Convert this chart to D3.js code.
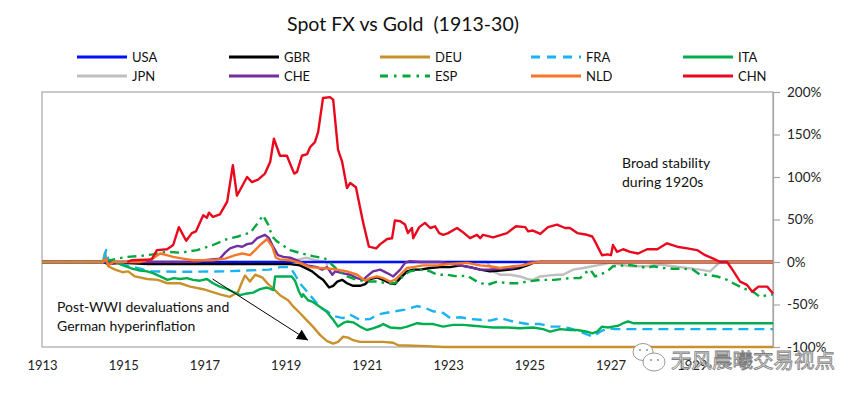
<!DOCTYPE html>
<html><head><meta charset="utf-8">
<script src="https://cdn.jsdelivr.net/npm/d3@7"></script>
<style>
html,body{margin:0;padding:0;background:#fff;}
svg{display:block;font-family:Lato,"Open Sans",sans-serif;}
</style></head>
<body><svg id="c" width="865" height="397"></svg>
<script>
// ---- data: [year, % change vs gold] ----
const seriesNames = ["USA","GBR","DEU","FRA","ITA","JPN","CHE","ESP","NLD","CHN"];
const drawOrder = ["JPN","USA","GBR","DEU","FRA","ITA","CHE","ESP","NLD","CHN"];
const xTickYears = [1913,1915,1917,1919,1921,1923,1925,1927,1929];
const yTickValues = [-100,-50,0,50,100,150,200];

const USA = [[1913,0],[1931,0]];
const GBR = [[1913,0],[1914.5,0],[1914.6,-2],[1915.0,-1],[1915.6,-2.5],[1919.11,-2.5],[1919.35,-4],[1919.48,-7],[1919.65,-11],[1919.80,-17],[1919.92,-21],[1920.07,-30],[1920.17,-28],[1920.27,-23],[1920.39,-21],[1920.51,-25],[1920.66,-28],[1920.83,-28],[1920.96,-26],[1921.08,-20],[1921.25,-18],[1921.40,-21],[1921.57,-25],[1921.69,-26],[1921.82,-19],[1921.99,-11],[1922.14,-9],[1922.31,-9],[1922.56,-7],[1922.80,-6],[1923.05,-6],[1923.30,-4],[1923.54,-6],[1923.79,-9],[1924.03,-11],[1924.28,-10],[1924.53,-9],[1924.77,-7],[1924.95,-4],[1925.09,-1],[1925.27,0],[1931,0]];
const DEU = [[1913,0],[1914.50,0],[1914.55,11],[1914.63,-5],[1914.80,-9],[1914.98,-12],[1915.12,-11],[1915.29,-17],[1915.59,-20],[1915.85,-21],[1916.09,-25],[1916.40,-25],[1916.65,-29],[1916.97,-32],[1917.38,-38],[1917.63,-41],[1917.83,-35],[1917.93,-23],[1918.00,-16],[1918.12,-23],[1918.25,-15],[1918.42,-18],[1918.57,-26],[1918.69,-31],[1918.86,-39],[1919.06,-45],[1919.18,-52],[1919.35,-60],[1919.51,-68],[1919.67,-76],[1919.85,-86],[1920.02,-93],[1920.17,-96],[1920.29,-94],[1920.41,-88],[1920.54,-89],[1920.66,-92],[1920.83,-94],[1921.08,-94],[1921.40,-94],[1921.65,-95],[1921.77,-98],[1922.48,-99],[1922.9,-100],[1931,-100]];
const FRA = [[1913,0],[1914.50,0],[1914.58,14],[1914.65,0],[1914.9,-2],[1915.17,-5],[1915.45,-8],[1915.59,-11],[1916.5,-11.5],[1917.5,-11],[1918.0,-10],[1918.6,-9],[1918.86,-6],[1919.11,-6],[1919.23,-15],[1919.35,-25],[1919.53,-35],[1919.67,-43],[1919.85,-53],[1920.02,-58],[1920.22,-64],[1920.41,-66],[1920.59,-62],[1920.83,-68],[1921.08,-67],[1921.25,-62],[1921.45,-60],[1921.69,-58],[1921.94,-56],[1922.24,-52],[1922.38,-53],[1922.63,-58],[1922.88,-60],[1923.05,-66],[1923.30,-65],[1923.54,-67],[1923.79,-68],[1924.03,-69],[1924.28,-66],[1924.60,-70],[1924.95,-73],[1925.27,-73],[1925.51,-76],[1925.76,-76],[1926.00,-78],[1926.25,-82],[1926.57,-88],[1926.74,-82],[1926.94,-78],[1927.11,-79],[1931,-79]];
const ITA = [[1913,0],[1914.8,0],[1915.0,-4],[1915.24,-8],[1915.41,-10],[1915.59,-11],[1915.73,-13],[1915.91,-17],[1916.09,-21],[1916.24,-19],[1916.40,-20],[1916.57,-19],[1916.72,-21],[1916.89,-22],[1917.06,-20],[1917.21,-25],[1917.38,-29],[1917.56,-32],[1917.70,-35],[1917.88,-39],[1918.05,-37],[1918.20,-36],[1918.37,-32],[1918.54,-30],[1918.70,-33],[1918.74,-17],[1919.15,-17],[1919.23,-22],[1919.33,-35],[1919.40,-41],[1919.43,-38],[1919.55,-45],[1919.67,-47],[1919.85,-53],[1920.02,-59],[1920.17,-68],[1920.29,-76],[1920.41,-72],[1920.51,-70],[1920.66,-71],[1920.83,-76],[1921.00,-80],[1921.15,-78],[1921.33,-75],[1921.40,-73],[1921.57,-77],[1921.82,-78],[1921.99,-76],[1922.24,-72],[1922.38,-73],[1922.63,-73],[1922.88,-76],[1923.12,-74],[1923.37,-74],[1923.62,-75],[1923.86,-76],[1924.11,-77],[1924.45,-77],[1924.77,-78],[1925.09,-77],[1925.34,-79],[1925.51,-82],[1925.76,-79],[1926.00,-80],[1926.18,-80],[1926.42,-82],[1926.55,-84],[1926.67,-82],[1926.79,-76],[1926.94,-77],[1927.06,-76],[1927.19,-75],[1927.31,-72],[1927.43,-70],[1927.56,-72],[1931,-72]];
const JPN = [[1913,0],[1919.0,0],[1919.2,2],[1919.34,3],[1919.51,5],[1919.76,2],[1920.0,0],[1920.02,-3],[1920.04,0],[1923.96,0],[1924.11,-11],[1924.28,-15],[1924.53,-15],[1924.77,-17],[1924.95,-20],[1925.09,-21],[1925.27,-17],[1925.44,-16],[1925.68,-15],[1925.83,-15],[1926.08,-9],[1926.33,-7],[1926.67,-4],[1926.99,-1],[1927.24,-3],[1927.48,-5],[1927.90,-5],[1928.22,-3],[1928.54,-5],[1928.89,-7],[1929.21,-9],[1929.45,-11],[1929.58,-5],[1929.70,0],[1931,0]];
const CHE = [[1913,0],[1916.8,0],[1917.0,2],[1917.38,4],[1917.51,11],[1917.63,16],[1917.81,19],[1917.93,18],[1918.05,21],[1918.17,22],[1918.30,28],[1918.49,32],[1918.59,28],[1918.69,18],[1918.81,8],[1918.94,6],[1919.11,5],[1919.28,2],[1919.53,-4],[1919.77,-6],[1919.90,-9],[1920.02,-6],[1920.15,-15],[1920.22,-11],[1920.39,-13],[1920.59,-15],[1920.76,-19],[1920.91,-21],[1921.00,-17],[1921.15,-11],[1921.33,-9],[1921.50,-13],[1921.65,-17],[1921.82,-9],[1921.94,-1],[1922.06,1],[1922.31,0],[1922.8,0],[1923.30,-4],[1923.62,-7],[1923.79,-9],[1924.03,-9],[1924.28,-8],[1924.60,-7],[1924.85,-4],[1925.02,0],[1931,0]];
const ESP = [[1913,0],[1914.5,0],[1914.85,4],[1915.09,6],[1915.41,7],[1915.73,9],[1916.07,12],[1916.40,11],[1916.82,14],[1917.21,20],[1917.56,27],[1917.83,30],[1918.0,33],[1918.12,34],[1918.30,45],[1918.44,55],[1918.57,44],[1918.67,30],[1918.79,24],[1919.11,14],[1919.4,10],[1919.67,7],[1919.97,4],[1920.07,0],[1920.27,-9],[1920.51,-17],[1920.76,-21],[1921.00,-23],[1921.25,-23],[1921.50,-25],[1921.69,-25],[1921.82,-21],[1921.89,-16],[1922.06,-11],[1922.31,-9],[1922.56,-11],[1922.73,-15],[1922.98,-15],[1923.22,-17],[1923.47,-16],[1923.71,-23],[1923.96,-27],[1924.21,-23],[1924.45,-25],[1924.70,-25],[1924.95,-23],[1925.27,-21],[1925.61,-21],[1926.00,-19],[1926.25,-19],[1926.37,-13],[1926.50,-9],[1926.62,-17],[1926.74,-15],[1926.92,-11],[1927.06,-5],[1927.19,-5],[1927.41,-3],[1927.66,-5],[1927.90,-7],[1928.05,-5],[1928.30,-7],[1928.54,-8],[1928.79,-8],[1929.03,-9],[1929.21,-15],[1929.38,-15],[1929.63,-17],[1929.87,-21],[1930.02,-25],[1930.27,-31],[1930.51,-35],[1930.68,-41],[1930.86,-39],[1931,-38]];
const NLD = [[1913,0],[1914.5,0],[1914.58,3],[1914.63,-4],[1914.75,0],[1915.4,0],[1915.73,4],[1915.91,10],[1916.07,8],[1916.23,6],[1916.47,4],[1916.72,2],[1917.21,2],[1917.51,4],[1917.76,8],[1917.93,10],[1918.12,8],[1918.25,14],[1918.37,20],[1918.54,27],[1918.67,18],[1918.76,5],[1918.86,3],[1919.11,2],[1919.35,-1],[1919.60,-6],[1919.85,-7],[1920.09,-8],[1920.27,-9],[1920.51,-11],[1920.76,-15],[1920.96,-22],[1921.08,-19],[1921.25,-17],[1921.40,-19],[1921.57,-23],[1921.69,-21],[1921.82,-15],[1921.99,-7],[1922.14,-6],[1922.38,-4],[1922.73,-4],[1923.12,-2],[1923.47,-1],[1923.79,-4],[1924.03,-5],[1924.28,-7],[1924.60,-5],[1924.85,-4],[1925.09,-1],[1925.27,0],[1931,0]];
const CHN = [[1915.1,0],[1915.2,2],[1915.7,3],[1915.83,14],[1916.08,15],[1916.23,20],[1916.37,41],[1916.55,25],[1916.69,34],[1916.79,36],[1916.97,55],[1917.06,52],[1917.11,58],[1917.21,53],[1917.38,56],[1917.56,71],[1917.70,114],[1917.80,78],[1918.05,100],[1918.17,94],[1918.32,97],[1918.49,104],[1918.62,118],[1918.71,145],[1918.86,125],[1919.03,125],[1919.21,104],[1919.28,106],[1919.40,125],[1919.53,127],[1919.60,135],[1919.72,141],[1919.80,153],[1919.92,193],[1920.09,194],[1920.17,191],[1920.29,132],[1920.39,118],[1920.51,87],[1920.59,93],[1920.73,88],[1920.91,46],[1921.05,18],[1921.23,16],[1921.33,21],[1921.50,27],[1921.62,28],[1921.69,49],[1921.82,48],[1921.94,44],[1922.01,34],[1922.11,40],[1922.14,28],[1922.29,41],[1922.43,46],[1922.56,40],[1922.68,42],[1922.78,34],[1922.88,32],[1923.00,34],[1923.22,40],[1923.34,36],[1923.54,28],[1923.71,32],[1923.79,28],[1923.86,32],[1924.11,29],[1924.45,34],[1924.67,42],[1924.90,41],[1924.97,36],[1925.09,37],[1925.27,33],[1925.46,41],[1925.68,44],[1925.88,40],[1926.00,40],[1926.18,34],[1926.42,32],[1926.55,30],[1926.62,24],[1926.79,8],[1926.92,9],[1927.01,8],[1927.06,20],[1927.16,12],[1927.31,15],[1927.48,12],[1927.68,10],[1927.90,15],[1928.15,15],[1928.39,22],[1928.64,18],[1928.89,16],[1929.13,14],[1929.33,8],[1929.53,4],[1929.70,0],[1929.87,0],[1930.00,-9],[1930.19,-23],[1930.36,-27],[1930.49,-35],[1930.64,-29],[1930.86,-29],[1931.00,-37]];

const seriesData = {USA,GBR,DEU,FRA,ITA,JPN,CHE,ESP,NLD,CHN};
const seriesColors = {USA:"#0010F5",GBR:"#000000",DEU:"#C9912C",FRA:"#19B4F0",ITA:"#00AE4F",JPN:"#BFBFBF",CHE:"#7030A0",ESP:"#00A83C",NLD:"#F7772A",CHN:"#E8091E"};
const seriesDash = {FRA:"10,6",ESP:"9,5,2.5,5"};

// ---- layout ----
const svg = d3.select("#c");
const x = d3.scaleLinear().domain([1913,1931]).range([42,773]);
const y = d3.scaleLinear().domain([-100,200]).range([347,92]);

svg.append("text").attr("x",403).attr("y",31).attr("text-anchor","middle")
  .attr("font-size",19.5).attr("fill","#111").style("white-space","pre")
  .text("Spot FX vs Gold  (1913-30)");

// legend
const legCols = [77,229,380,531,683], legRows=[57,76];
const leg = svg.append("g");
seriesNames.forEach((n,i)=>{
  const cx = legCols[i%5], cy = legRows[Math.floor(i/5)];
  leg.append("line").attr("x1",cx).attr("x2",cx+50).attr("y1",cy).attr("y2",cy)
    .attr("stroke",seriesColors[n]).attr("stroke-width",3)
    .attr("stroke-dasharray",n==="FRA"?"9,7":(n==="ESP"?"8,6,2.5,6":null));
  leg.append("text").attr("x",cx+55).attr("y",cy+4.5).attr("font-size",13).attr("fill","#111").text(n);
});

// plot frame
svg.append("rect").attr("x",x.range()[0]).attr("y",y.range()[1])
  .attr("width",x.range()[1]-x.range()[0]).attr("height",y.range()[0]-y.range()[1])
  .attr("fill","none").attr("stroke","#A6A6A6").attr("stroke-width",1.2);

// right axis
const ya = svg.append("g").attr("transform",`translate(${x.range()[1]},0)`)
  .call(d3.axisRight(y).tickValues(yTickValues).tickFormat(d=>d+"%").tickSize(7).tickPadding(7));
ya.select(".domain").attr("stroke","#A6A6A6").attr("stroke-width",1.2);
ya.selectAll(".tick line").attr("stroke","#A6A6A6").attr("stroke-width",1.2);
ya.selectAll("text").attr("font-size",13.5).attr("fill","#222").attr("font-family","Lato");

// bottom axis labels
const xa = svg.append("g").attr("transform",`translate(0,${y.range()[0]})`)
  .call(d3.axisBottom(x).tickValues(xTickYears).tickFormat(d3.format("d")).tickSize(0).tickPadding(14));
xa.select(".domain").remove();
xa.selectAll("text").attr("font-size",13).attr("fill","#222").attr("font-family","Lato");

// lines
const line = d3.line().x(d=>x(d[0])).y(d=>y(d[1]));
const lg = svg.append("g");
drawOrder.forEach(n=>{
  lg.append("path").datum(seriesData[n]).attr("d",line)
    .attr("fill","none").attr("stroke",seriesColors[n]).attr("stroke-width",2.4)
    .attr("stroke-linejoin","round").attr("stroke-dasharray",seriesDash[n]||null);
});

// annotations
svg.append("text").attr("x",622).attr("y",168).attr("font-size",14).attr("fill","#111").text("Broad stability");
svg.append("text").attr("x",622).attr("y",187).attr("font-size",14).attr("fill","#111").text("during 1920s");
svg.append("text").attr("x",57).attr("y",312).attr("font-size",14).attr("fill","#111").text("Post-WWI devaluations and");
svg.append("text").attr("x",57).attr("y",331).attr("font-size",14).attr("fill","#111").text("German hyperinflation");

svg.append("defs").append("marker").attr("id","ah").attr("viewBox","0 0 10 10")
  .attr("refX",10).attr("refY",5).attr("markerWidth",11).attr("markerHeight",11)
  .attr("markerUnits","userSpaceOnUse").attr("orient","auto")
  .append("path").attr("d","M0,0L10,5L0,10z").attr("fill","#000");
svg.append("line").attr("x1",x(1917.2)).attr("y1",y(-20)).attr("x2",x(1919.55)).attr("y2",y(-92))
  .attr("stroke","#000").attr("stroke-width",1).attr("marker-end","url(#ah)");

// watermark
const wm = svg.append("g");
wm.append("ellipse").attr("cx",643).attr("cy",352).attr("rx",10).attr("ry",8.5).attr("fill","#fff").attr("stroke","#9a9a9a").attr("stroke-width",1);
wm.append("ellipse").attr("cx",654).attr("cy",362).attr("rx",11).attr("ry",9).attr("fill","#fff").attr("stroke","#9a9a9a").attr("stroke-width",1);
[[640,350],[647,350],[651,360],[658,360]].forEach(p=>wm.append("circle").attr("cx",p[0]).attr("cy",p[1]).attr("r",1.1).attr("fill","#9a9a9a"));
wm.append("text").attr("x",671).attr("y",368).attr("font-size",20.5)
  .attr("font-family","'Noto Sans CJK SC'").attr("fill","#f2f2f2").attr("stroke","#7d7d7d").attr("stroke-width",0.8)
  .text("无风晨曦交易视点");
</script></body></html>
